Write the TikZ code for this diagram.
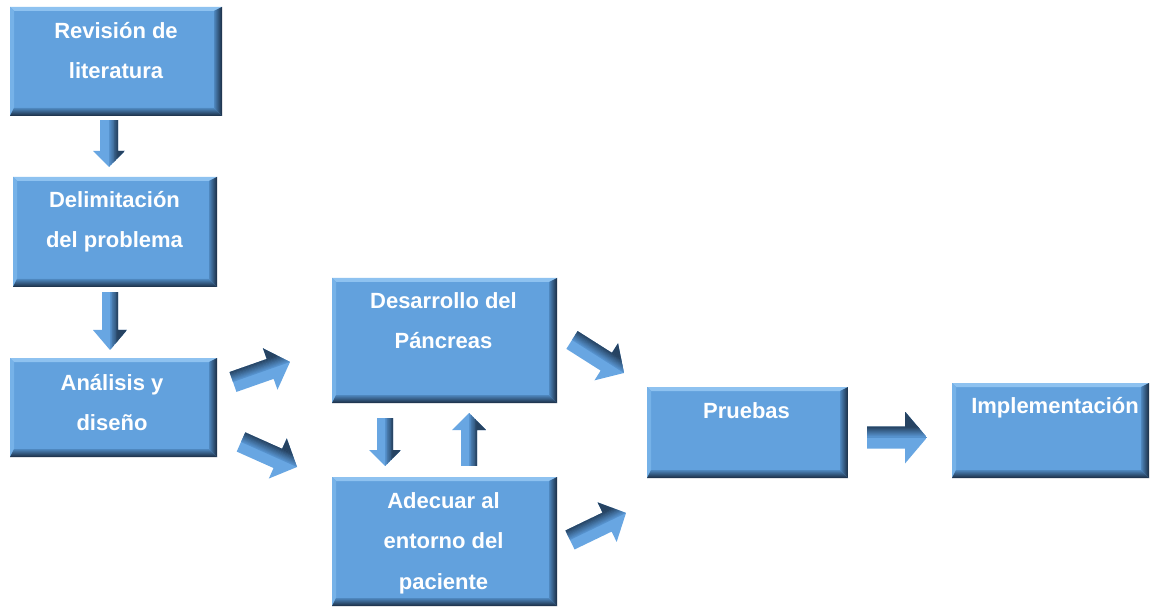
\documentclass[tikz,border=0pt]{standalone}
\usepackage{fontspec}
\setmainfont{Liberation Sans}
\usetikzlibrary{calc}
\definecolor{boxblue}{RGB}{98,161,221}
\definecolor{bevtop}{RGB}{142,194,240}
\definecolor{bevleft}{RGB}{118,178,232}
\definecolor{bevmid}{RGB}{78,135,190}
\definecolor{bevdark}{RGB}{26,44,66}
\definecolor{arrlight}{RGB}{104,166,226}
\definecolor{arrmid}{RGB}{86,146,205}
\definecolor{arrdark}{RGB}{22,40,62}
\newcommand\tstrut{\rule{0pt}{21pt}}
\newcommand\bevel[1]{%
  \path (#1.north west) coordinate (bv-nw) (#1.north east) coordinate (bv-ne)
        (#1.south east) coordinate (bv-se) (#1.south west) coordinate (bv-sw);
  \path ($(bv-nw)+(4,4)$) coordinate (bv-inw) ($(bv-ne)+(-8,4)$) coordinate (bv-ine)
        ($(bv-se)+(-8,-8)$) coordinate (bv-ise) ($(bv-sw)+(4,-8)$) coordinate (bv-isw);
  \fill[bevtop] (bv-nw) -- (bv-ne) -- (bv-ine) -- (bv-inw) -- cycle;
  \fill[bevleft] (bv-nw) -- (bv-inw) -- (bv-isw) -- (bv-sw) -- cycle;
  \shade[left color=bevmid, right color=bevdark] (bv-ne) -- (bv-se) -- (bv-ise) -- (bv-ine) -- cycle;
  \shade[top color=bevmid, bottom color=bevdark] (bv-sw) -- (bv-isw) -- (bv-ise) -- (bv-se) -- cycle;
}
% #1 tail, #2 tip, #3 shaft half width, #4 head half width, #5 head length, #6 dark side (90/-90)
\newcommand\blockarrow[6]{%
  \coordinate (ba-q) at ($(#2)!#5pt!(#1)$);
  \pgfmathsetmacro\baneg{-(#6)}%
  \begin{scope}
    \clip ($(#1)!#3pt!90:(#2)$) -- ($(ba-q)!#3pt!90:(#2)$) -- ($(ba-q)!#4pt!90:(#2)$) -- (#2)
       -- ($(ba-q)!#4pt!-90:(#2)$) -- ($(ba-q)!#3pt!-90:(#2)$) -- ($(#1)!#3pt!-90:(#2)$) -- cycle;
    \fill[arrlight] ($(#1)!#4pt!90:(#2)$) -- ($(#2)!#4pt!-90:(#1)$) -- ($(#2)!#4pt!90:(#1)$) -- ($(#1)!#4pt!-90:(#2)$) -- cycle;
    \foreach \k in {0,...,9}{%
      \pgfmathsetmacro\oa{\k*#3/10}%
      \pgfmathsetmacro\ob{(\k+1)*#3/10+0.3}%
      \pgfmathtruncatemacro\pc{100-\k*8}%
      \fill[arrmid!\pc!arrdark] ($(#1)!\oa pt!#6:(#2)$) -- ($(#1)!\ob pt!#6:(#2)$)
         -- ($(#2)!\ob pt!\baneg:(#1)$) -- ($(#2)!\oa pt!\baneg:(#1)$) -- cycle;
    }
    \fill[arrmid!25!arrdark] ($(#1)!#3pt!#6:(#2)$) -- ($(#1)!#4pt!#6:(#2)$)
       -- ($(#2)!#4pt!\baneg:(#1)$) -- ($(#2)!#3pt!\baneg:(#1)$) -- cycle;
  \end{scope}}
\begin{document}
\begin{tikzpicture}[x=1pt,y=-1pt,
  bx/.style={rectangle, fill=boxblue, inner sep=0pt, outer sep=0pt},
  lbl/.style={anchor=north, inner sep=0pt, align=center, text=white,
              font=\fontsize{22}{40.5}\selectfont\bfseries}]
\useasboundingbox[fill=white] (0,0) rectangle (1153,609);

% boxes
\node[bx, minimum width=212pt, minimum height=109pt] (rev) at (116,61.5) {};
\node[bx, minimum width=204pt, minimum height=110pt] (del) at (115,232) {};
\node[bx, minimum width=207pt, minimum height=99pt]  (ana) at (113.5,407.5) {};
\node[bx, minimum width=225pt, minimum height=125pt] (des) at (444.5,340.5) {};
\node[bx, minimum width=225pt, minimum height=129pt] (ade) at (444.5,541.5) {};
\node[bx, minimum width=201pt, minimum height=91pt]  (pru) at (747.5,432.5) {};
\node[bx, minimum width=197pt, minimum height=95pt]  (imp) at (1050.5,430.5) {};
\bevel{rev}\bevel{del}\bevel{ana}\bevel{des}\bevel{ade}\bevel{pru}\bevel{imp}

% labels
\node[lbl] (revt) at (116,17) {\tstrut Revisión de\\literatura};
\node[lbl] (delt) at (114.5,186) {\tstrut Delimitación\\del problema};
\node[lbl] (anat) at (112,369) {\tstrut Análisis y\\diseño};
\node[lbl] (dest) at (443.5,287) {\tstrut Desarrollo del\\Páncreas};
\node[lbl] (adet) at (443.5,487) {\tstrut Adecuar al\\entorno del\\paciente};
\node[lbl] (prut) at (746.5,397) {\tstrut Pruebas};
\node[lbl] (impt) at (1055,392) {\tstrut Implementación};

% arrow end points
\coordinate (a1s) at (109,120);   \coordinate (a1e) at (109,167);
\coordinate (a2s) at (110,292);   \coordinate (a2e) at (110,350);
\coordinate (a3s) at (233,382);   \coordinate (a3e) at (290,362);
\coordinate (a4s) at (241,442);   \coordinate (a4e) at (297,467);
\coordinate (a5s) at (385,418);   \coordinate (a5e) at (385,466);
\coordinate (a6s) at (469,466);   \coordinate (a6e) at (469,413);
\coordinate (a7s) at (572,340);   \coordinate (a7e) at (624,373);
\coordinate (a8s) at (570,540);   \coordinate (a8e) at (626,513);
\coordinate (a9s) at (867,437.5); \coordinate (a9e) at (927,437.5);

\blockarrow{a1s}{a1e}{9}{16}{16}{90}
\blockarrow{a2s}{a2e}{8}{17}{20}{90}
\blockarrow{a3s}{a3e}{10.5}{22}{21}{90}
\blockarrow{a4s}{a4e}{10.5}{22}{21}{90}
\blockarrow{a5s}{a5e}{8}{16}{16}{90}
\blockarrow{a6s}{a6e}{8}{17}{17}{-90}
\blockarrow{a7s}{a7e}{10.5}{22}{21}{90}
\blockarrow{a8s}{a8e}{10.5}{22}{21}{90}
\blockarrow{a9s}{a9e}{11}{26}{22}{90}
\end{tikzpicture}
\end{document}
